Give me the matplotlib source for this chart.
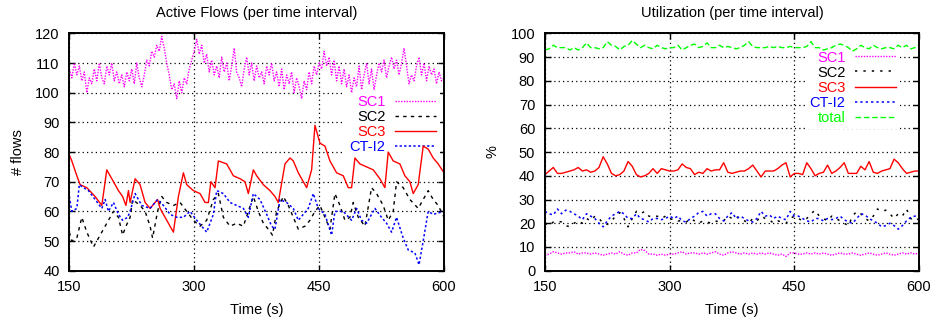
import numpy as np
import matplotlib
matplotlib.use("Agg")
import matplotlib.pyplot as plt

plt.rcParams['font.family'] = ['Liberation Sans', 'DejaVu Sans']
plt.rcParams['font.size'] = 10

# ---- Active flows (left) ----
t_sc1 = list(range(150, 601, 3))
flows_sc1 = [108, 105, 110, 106, 109, 104, 107, 100, 105, 103,
             108, 104, 110, 105, 103, 109, 106, 110, 104, 107,
             103, 106, 102, 107, 104, 108, 103, 110, 105, 102,
             106, 111, 109, 114, 112, 116, 114, 119, 115, 110,
             106, 101, 103, 98, 104, 100, 105, 103, 108, 111,
             114, 118, 113, 116, 110, 113, 107, 111, 106, 109,
             105, 112, 107, 110, 104, 109, 115, 107, 105, 102,
             108, 112, 106, 110, 104, 109, 105, 107, 103, 109,
             106, 110, 104, 107, 102, 108, 101, 106, 103, 107,
             100, 105, 102, 98, 104, 101, 107, 103, 109, 106,
             110, 108, 114, 109, 112, 106, 111, 104, 109, 103,
             108, 102, 106, 100, 105, 102, 109, 101, 106, 110,
             103, 108, 101, 106, 110, 107, 111, 105, 109, 112,
             108, 111, 106, 110, 115, 109, 103, 106, 104, 109,
             112, 106, 110, 104, 109, 106, 108, 103, 107, 104,
             105]

t_sc2 = [150, 153, 159, 165, 171, 179, 187, 195, 203, 209, 214, 218, 223, 226,
         235, 241, 247, 250, 256, 261, 267, 275, 283, 291, 299, 307, 315, 323,
         329, 335, 343, 351, 359, 365, 371, 377, 383, 389, 394, 399, 407, 413,
         419, 425, 433, 439, 445, 451, 457, 463, 469, 475, 481, 487, 491, 497,
         505, 513, 519, 527, 533, 539, 543, 551, 559, 569, 575, 581, 587, 593, 600]
flows_sc2 = [53, 50, 51, 58, 53, 48, 52, 56, 60, 58, 52, 55, 58, 64,
             62, 60, 55, 51, 60, 65, 63, 62, 63, 60, 57, 55, 57, 64,
             66, 58, 55, 56, 55, 60, 65, 60, 56, 54, 52, 60, 65, 62,
             58, 54, 55, 57, 60, 62, 58, 54, 66, 62, 57, 58, 63, 58,
             55, 68, 66, 62, 57, 60, 70, 68, 64, 61, 64, 67, 64, 62, 58]

t_sc3 = [150, 153, 159, 163, 171, 181, 189, 195, 203, 209, 214, 218, 221, 223,
         229, 235, 241, 247, 256, 259, 267, 275, 281, 287, 291, 299, 307, 313,
         317, 320, 325, 329, 339, 347, 355, 361, 365, 371, 375, 383, 391, 397,
         401, 409, 415, 419, 425, 429, 435, 441, 445, 451, 457, 463, 471, 479,
         485, 489, 493, 499, 507, 515, 523, 529, 533, 539, 547, 553, 559, 563,
         569, 575, 581, 587, 593, 600]
flows_sc3 = [79, 77, 72, 69, 68, 65, 62, 74, 70, 67, 65, 62, 67, 63,
             71, 69, 63, 61, 64, 61, 57, 53, 65, 73, 69, 67, 66, 63,
             63, 70, 68, 77, 76, 72, 71, 70, 66, 74, 72, 69, 67, 65,
             63, 76, 78, 77, 73, 71, 68, 74, 89, 83, 82, 77, 73, 72,
             68, 68, 78, 76, 75, 74, 71, 68, 80, 77, 76, 72, 70, 66,
             69, 82, 81, 78, 76, 73]

t_ct = [150, 153, 159, 162, 167, 173, 181, 189, 193, 197, 203, 209, 214, 220,
        223, 229, 237, 247, 256, 263, 271, 279, 287, 295, 303, 309, 315, 323,
        327, 335, 343, 351, 359, 365, 371, 379, 387, 393, 397, 403, 411, 419,
        425, 431, 437, 443, 449, 457, 465, 469, 479, 489, 495, 501, 507, 517,
        525, 531, 537, 543, 551, 557, 565, 570, 575, 581, 587, 600]
flows_ct = [65, 60, 61, 69, 68, 67, 64, 61, 64, 60, 63, 59, 57, 58,
            60, 66, 62, 61, 64, 62, 59, 58, 58, 60, 57, 55, 53, 59,
            67, 66, 63, 62, 61, 58, 66, 64, 59, 55, 54, 64, 63, 61,
            57, 59, 61, 66, 61, 59, 52, 60, 60, 57, 61, 57, 56, 61,
            58, 56, 53, 58, 51, 47, 46, 42, 50, 60, 59, 60]

# ---- Utilization (right) ----
t_util = list(range(150, 601, 5))
util_sc1 = [6.5, 7, 8, 7.5, 7, 7.5, 7.5, 8, 7, 7.5, 7.5, 7, 7.5, 7, 6.5, 7, 7.5, 7,
            8, 7, 6.5, 7.5, 7.5, 9, 8.5, 7, 7, 6.5, 7, 6.5, 7, 7, 7.5, 8, 7, 7.5,
            7.5, 7, 7.5, 7, 7.5, 8, 7, 6.5, 7.5, 8, 7.5, 7, 7.5, 7, 7.5, 7, 7.5, 7,
            7.5, 7, 6.5, 7, 6, 7.5, 7.5, 7, 7, 7.5, 7, 7.5, 7, 7.5, 7, 6.5, 7, 7.5,
            7, 7, 7.5, 7, 6.5, 7, 7.5, 7, 6.5, 7, 7.5, 7, 6.5, 7, 7.5, 7, 7.5, 7, 7.5]
util_sc2 = [20, 19, 20.5, 21, 20.5, 19, 18.5, 20, 21, 20, 22, 21, 23, 22, 20, 19.5,
            21, 23, 24.5, 22, 18.5, 22, 25, 24, 25, 23, 22.5, 23, 22, 23, 21.5, 22,
            21, 21, 20.5, 22, 21, 20, 21, 20.5, 20, 21, 20.5, 21, 23, 22, 23, 21.5,
            21, 20, 22, 21, 23, 22, 21.5, 20, 21, 20.5, 20, 22, 23, 22, 21, 22, 24,
            25.5, 23, 22, 21, 23, 22, 21, 20, 19, 23, 25, 24, 22, 21, 23, 26, 25,
            25.5, 24, 22, 24, 23, 26, 22, 21, 22]
util_sc3 = [40.5, 42, 43.5, 41, 41, 41.5, 42, 42.5, 43.5, 42, 42.5, 41.5, 42, 43.5,
            48, 45, 41, 40, 40.5, 42, 46, 44, 40.5, 39.5, 40, 41, 43, 41, 43, 42.5,
            42, 42, 42.5, 45, 43.5, 43, 40.5, 41.5, 41, 43, 42, 42.5, 42.5, 45.5,
            41.5, 41, 41.5, 42, 42, 43, 44.5, 42, 39.5, 42, 42, 42, 43, 44.5, 45.5,
            39.5, 41, 41, 40.5, 45.5, 43, 40, 41, 41.5, 44.5, 41, 42, 43.5, 45.5,
            41, 41, 41, 44, 42.5, 46, 41.5, 41, 42, 42.5, 43, 47, 45.5, 43, 41,
            41.5, 42, 42]
util_ct = [25, 24, 23.5, 26, 24, 25.5, 25, 24, 23, 21.5, 24, 23, 22, 20, 18.5, 21,
           23, 24, 25, 24, 22, 22, 24, 22, 21.5, 20.5, 22, 22, 21.5, 22, 23, 22,
           23, 21, 20.5, 22, 23, 24.5, 25, 23, 24, 24, 22, 21, 23, 24.5, 22, 23,
           22, 21, 20.5, 22, 25, 23, 23.5, 22, 23, 22, 21.5, 25, 23, 23, 22, 21,
           20.5, 22, 22, 21, 22, 21.5, 22, 23, 21.5, 20.5, 20, 22, 24, 23.5, 22,
           21, 20, 18.5, 19, 20, 19, 17.5, 19, 21, 22.5, 23, 23]
util_total = [93, 93.5, 95, 94, 94, 94, 93, 94, 93, 94, 96, 94, 94, 93.5, 94, 96.5,
              95, 94.5, 93, 94.5, 95, 97, 95.5, 94, 95, 94, 93.5, 95, 94, 93.5, 94,
              94, 95, 93, 94, 95, 95.5, 94, 94.5, 96, 94, 94, 95, 94, 94.5, 94, 93.5,
              94, 95, 96.5, 94.5, 94, 94, 94, 94.5, 94, 94.5, 94, 94, 94.5, 94, 94,
              94, 94.5, 96.5, 94, 94, 93, 93.5, 94, 95, 95.5, 95, 94, 92.5, 93.5, 95,
              94, 93.5, 95, 94, 93.5, 94, 94, 93.5, 95, 94, 95, 93.5, 94, 95]

x_ticks = [150, 300, 450, 600]

fig = plt.figure(figsize=(9.33, 3.22), dpi=100)
ax1 = fig.add_axes([0.0743, 0.1593, 0.4016, 0.737])
ax2 = fig.add_axes([0.5841, 0.1593, 0.4009, 0.737])


def style_axes(ax, yticks, title, ylabel, ypad):
    ax.set_xlim(150, 600)
    ax.set_ylim(yticks[0], yticks[-1])
    ax.set_xticks(x_ticks)
    ax.set_yticks(yticks)
    ax.tick_params(direction='in', length=4, width=1, top=True, right=True,
                   labelsize=10.5, pad=7)
    ax.grid(True, color='black', linestyle=(0, (1, 2.5)), linewidth=0.9)
    ax.set_axisbelow(True)
    for s in ax.spines.values():
        s.set_linewidth(1.4)
    ax.set_title(title, fontsize=10.5, pad=12)
    ax.set_xlabel('Time (s)', fontsize=10.5, labelpad=6)
    ax.set_ylabel(ylabel, fontsize=10.5, labelpad=ypad)


def add_key(ax, anchor):
    leg = ax.legend(loc='upper right', bbox_to_anchor=anchor, markerfirst=False,
                    labelcolor='linecolor', fontsize=10.5, handlelength=2.8,
                    handletextpad=0.65, labelspacing=0.07, borderpad=0.3,
                    borderaxespad=0, frameon=True, fancybox=False,
                    edgecolor='none', framealpha=1)
    # key hides the grid but data stays on top, as in gnuplot
    leg.set_zorder(1)
    return leg


ax1.plot(t_sc1, flows_sc1, color='#ff00ff', linestyle=(0, (1, 1)), linewidth=1, label='SC1')
ax1.plot(t_sc2, flows_sc2, color='black', linestyle=(0, (2.5, 3)), linewidth=1, label='SC2')
ax1.plot(t_sc3, flows_sc3, color='#ff0000', linestyle='-', linewidth=1, label='SC3')
ax1.plot(t_ct, flows_ct, color='#0000ff', linestyle=(0, (1.5, 1.5)), linewidth=1.1, label='CT-I2')
style_axes(ax1, list(range(40, 121, 10)), 'Active Flows (per time interval)', '# flows', 7)
add_key(ax1, (0.99, 0.757))

ax2.plot(t_util, util_sc1, color='#ff00ff', linestyle=(0, (1, 1)), linewidth=1, label='SC1')
ax2.plot(t_util, util_sc2, color='black', linestyle=(0, (1.5, 4)), linewidth=1.1, label='SC2')
ax2.plot(t_util, util_sc3, color='#ff0000', linestyle='-', linewidth=1, label='SC3')
ax2.plot(t_util, util_ct, color='#0000ff', linestyle=(0, (1.5, 2)), linewidth=1.1, label='CT-I2')
ax2.plot(t_util, util_total, color='#00ff00', linestyle=(0, (4, 2)), linewidth=1, label='total')
style_axes(ax2, list(range(0, 101, 10)), 'Utilization (per time interval)', '%', 8)
add_key(ax2, (0.949, 0.946))

fig.savefig('out.png', dpi=100)
